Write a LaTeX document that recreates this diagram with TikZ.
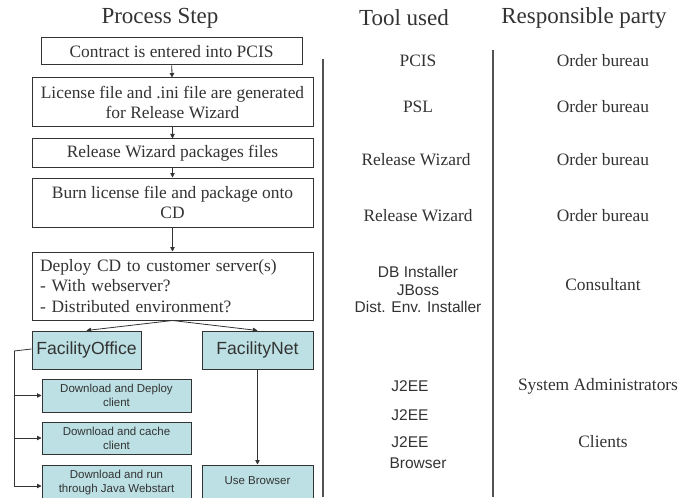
\documentclass[tikz,border=0pt]{standalone}
\usepackage{fontspec}
\setmainfont{Liberation Serif}
\setsansfont{Liberation Sans}
\usetikzlibrary{arrows.meta}
\definecolor{ink}{HTML}{333333}
\definecolor{teal}{HTML}{BCE0E3}
\tikzset{
  box/.style={draw=ink, line width=1pt, text=ink, inner sep=0pt,
    font=\fontsize{17.4}{20}\selectfont, align=center},
  tealbox/.style={box, fill=teal, font=\sffamily\fontsize{17.6}{20}\selectfont},
  subbox/.style={box, fill=teal, font=\sffamily\fontsize{11.5}{14}\selectfont},
  arr/.style={draw=ink, line width=0.8pt, -{Triangle[length=4.5pt,width=4.5pt]}},
  conn/.style={draw=ink, line width=0.8pt},
  head/.style={text=ink, font=\fontsize{23}{26}\selectfont, inner sep=0pt},
  serif/.style={text=ink, font=\fontsize{17.4}{20}\selectfont, inner sep=0pt, align=center},
  sans/.style={text=ink, font=\sffamily\fontsize{15.5}{18}\selectfont, inner sep=0pt, align=center},
  divider/.style={draw=ink!85, line width=1.2pt}
}
\begin{document}
\begin{tikzpicture}[x=1pt,y=-1pt]
\useasboundingbox (0,0) rectangle (684,497);
\clip (0,0) rectangle (684,497);
\fill[white] (0,0) rectangle (684,497);
% headers
\node[head] (h1) at (160,18) {Process Step};
\node[head] (h2) at (404,18) {Tool used};
\node[head] (h3) at (584,18) {Responsible party};
% process boxes
\node[box, minimum width=261pt, minimum height=27pt] (b1) at (171.5,51.5) {Contract is entered into PCIS};
\node[box, minimum width=281pt, minimum height=49pt] (b2) at (172.5,102.5) {License file and .ini file are generated\\for Release Wizard};
\node[box, minimum width=281pt, minimum height=28pt] (b3) at (172.5,153) {Release Wizard packages files};
\node[box, minimum width=281pt, minimum height=49pt] (b4) at (172.5,202.5) {Burn license file and package onto\\CD};
\node[box, minimum width=281pt, minimum height=68pt, text width=265pt, align=left, font=\fontsize{17.4}{20.5}\selectfont] (b5) at (172.5,286) {Deploy CD to customer server(s)\\- With webserver?\\- Distributed environment?};
\node[tealbox, minimum width=109pt, minimum height=38pt] (fo) at (86.5,350) {FacilityOffice};
\node[tealbox, minimum width=111pt, minimum height=38pt] (fn) at (257.5,350) {FacilityNet};
\node[subbox, minimum width=149pt, minimum height=33pt] (s1) at (116.5,395.5) {Download and Deploy\\client};
\node[subbox, minimum width=149pt, minimum height=32pt] (s2) at (116.5,438) {Download and cache\\client};
\node[subbox, minimum width=149pt, minimum height=36pt] (s3) at (116.5,483) {Download and run\\through Java Webstart};
\node[subbox, minimum width=111pt, minimum height=36pt] (ub) at (257.5,483) {\raisebox{4pt}{Use Browser}};
% connectors
\draw[arr] (b1) -- (b2);
\draw[arr] (b2) -- (b3);
\draw[arr] (b3) -- (b4);
\draw[arr] (b4) -- (b5);
\draw[arr] (b5.south) -- (fo.north);
\draw[arr] (b5.south) -- (fn.north);
\draw[arr] (fn) -- (ub);
\coordinate (br) at (14,351);
\draw[conn] ([yshift=1pt]fo.west) -- (br);
\draw[arr] (br) |- ([yshift=-3pt]s3.west);
\draw[arr] (br |- s1.west) -- (s1.west);
\draw[arr] (br |- s2.west) -- (s2.west);
% dividers
\draw[divider] (323,59) -- (323,497);
\draw[divider] (493,50) -- (493,497);
% tool column
\node[serif] (t1) at (418,61) {PCIS};
\node[serif] (t2) at (418,107) {PSL};
\node[serif] (t3) at (416,160) {Release Wizard};
\node[serif] (t4) at (418,216) {Release Wizard};
\node[sans, font=\sffamily\fontsize{15.5}{17.5}\selectfont] (t5) at (418,289.5) {DB Installer\\JBoss\\Dist. Env. Installer};
\node[sans] (t6) at (410,386) {J2EE};
\node[sans] (t7) at (410,415) {J2EE};
\node[sans] (t8) at (410,442) {J2EE};
\node[sans] (t9) at (418,463) {Browser};
% responsible column
\node[serif] (r1) at (603,61) {Order bureau};
\node[serif] (r2) at (603,107) {Order bureau};
\node[serif] (r3) at (603,160) {Order bureau};
\node[serif] (r4) at (603,216) {Order bureau};
\node[serif] (r5) at (603,285) {Consultant};
\node[serif] (r6) at (598,386) {System Administrators};
\node[serif] (r7) at (603,442) {Clients};
\end{tikzpicture}
\end{document}
